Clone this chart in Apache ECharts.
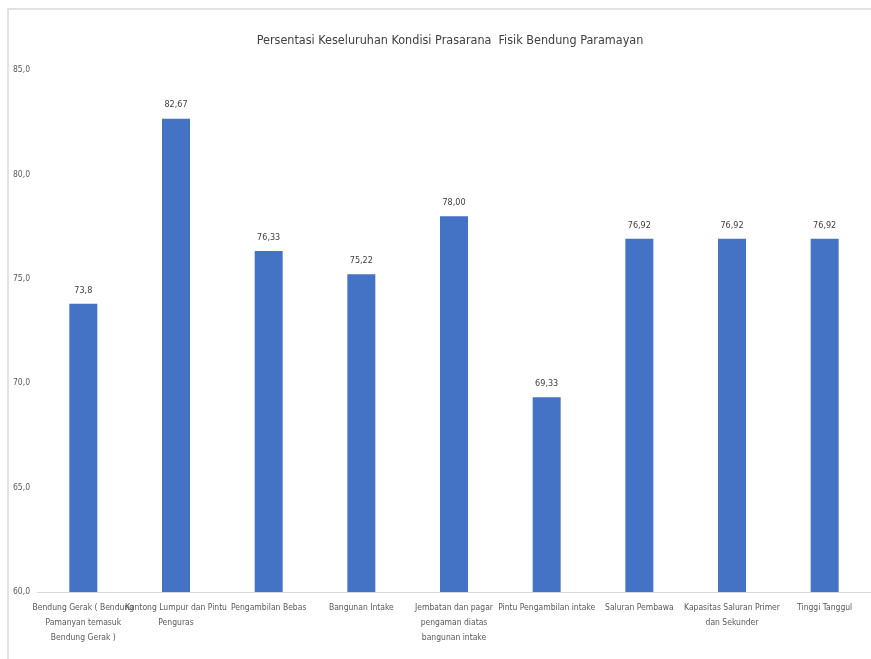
<!DOCTYPE html>
<html><head><meta charset="utf-8">
<script src="https://cdn.jsdelivr.net/npm/echarts@6/dist/echarts.min.js"></script>
<style>html,body{margin:0;padding:0;background:#fff}#c{width:871px;height:659px}</style>
</head><body><div id="c"></div>
<script>
const titleText = "Persentasi Keseluruhan Kondisi Prasarana  Fisik Bendung Paramayan";
const categories = [
  "Bendung Gerak ( Bendung\nPamanyan temasuk\nBendung Gerak )",
  "Kantong Lumpur dan Pintu\nPenguras",
  "Pengambilan Bebas",
  "Bangunan Intake",
  "Jembatan dan pagar\npengaman diatas\nbangunan intake",
  "Pintu Pengambilan intake",
  "Saluran Pembawa",
  "Kapasitas Saluran Primer\ndan Sekunder",
  "Tinggi Tanggul"
];
const values = [73.8, 82.67, 76.33, 75.22, 78.00, 69.33, 76.92, 76.92, 76.92];
const valueLabels = ["73,8", "82,67", "76,33", "75,22", "78,00", "69,33", "76,92", "76,92", "76,92"];
const yMin = 60, yMax = 85, yStep = 5;

const font = '"Liberation Sans Narrow","DejaVu Sans Condensed",sans-serif';
const chart = echarts.init(document.getElementById('c'), null, {renderer:'canvas'});
chart.setOption({
  animation:false,
  backgroundColor:'#fff',
  graphic:[{type:'rect', shape:{x:8,y:9,width:1000,height:700}, style:{fill:'none', stroke:'#d9d9d9', lineWidth:1.5}, silent:true}],
  title:{text:titleText, left:445, textAlign:'center', top:29,
    textStyle:{fontFamily:font, fontSize:12.5, fontWeight:'normal', color:'#404040'}},
  grid:{left:37, right:0, top:70, bottom:67},
  xAxis:{type:'category', data:categories,
    axisLine:{lineStyle:{color:'#d9d9d9'}}, axisTick:{show:false},
    axisLabel:{interval:0, fontFamily:font, fontSize:8.5, color:'#595959', lineHeight:15, margin:8}},
  yAxis:{type:'value', min:yMin, max:yMax, interval:yStep,
    splitLine:{show:false}, axisLine:{show:false}, axisTick:{show:false},
    axisLabel:{fontFamily:font, fontSize:8.5, color:'#595959', margin:7,
      formatter:v=>v.toFixed(1).replace('.',',')}},
  series:[{type:'bar', data:values, barWidth:28, itemStyle:{color:'#4472C4'},
    label:{show:true, position:'top', distance:9, fontFamily:font, fontSize:9, color:'#404040',
      formatter:p=>valueLabels[p.dataIndex]}}]
});
</script></body></html>
